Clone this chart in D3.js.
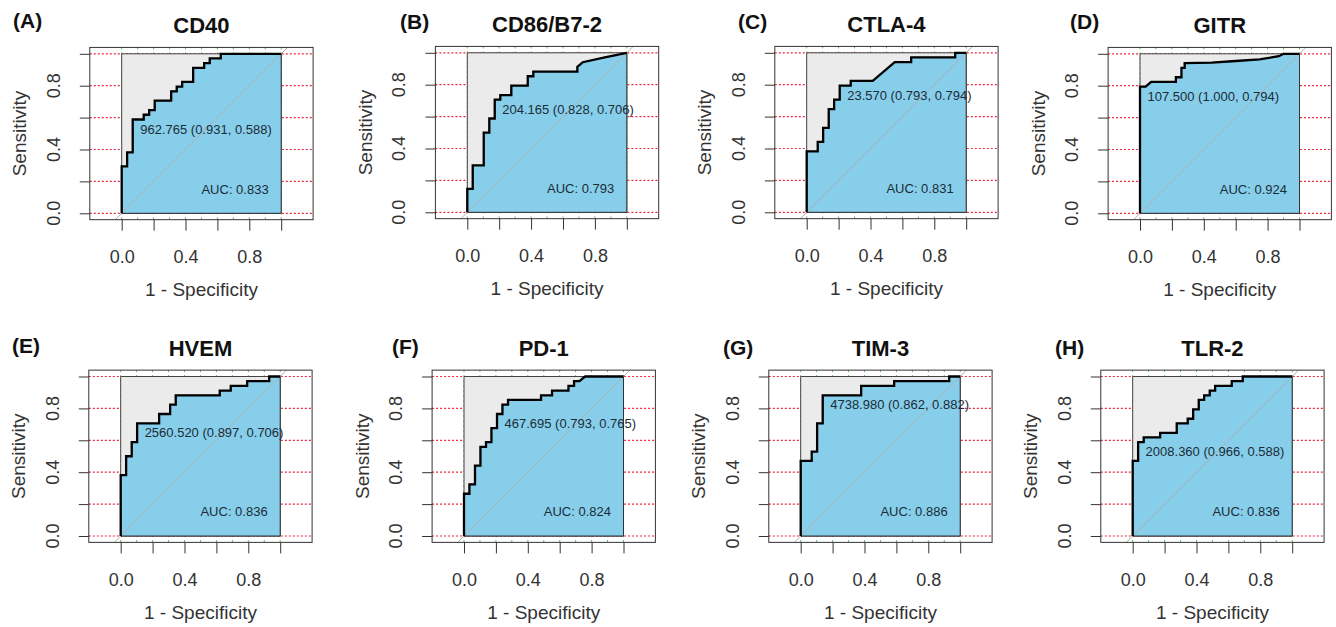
<!DOCTYPE html>
<html>
<head>
<meta charset="utf-8">
<script src="https://cdn.jsdelivr.net/npm/d3@7/dist/d3.min.js"></script>
<style>
  html, body { margin: 0; padding: 0; background: #ffffff; }
  svg { display: block; font-family: "Liberation Sans", Arial, sans-serif; }
</style>
</head>
<body>
<svg id="chart" width="1336" height="627"></svg>
<script>
// ---------------- DATA ----------------
const panelLabels = ["(A)", "(B)", "(C)", "(D)", "(E)", "(F)", "(G)", "(H)"];
const markers = ["CD40", "CD86/B7-2", "CTLA-4", "GITR", "HVEM", "PD-1", "TIM-3", "TLR-2"];
const aucValues = [0.833, 0.793, 0.831, 0.924, 0.836, 0.824, 0.886, 0.836];
const cutoffs = ["962.765", "204.165", "23.570", "107.500", "2560.520", "467.695", "4738.980", "2008.360"];
const cutSpecificity = [0.931, 0.828, 0.793, 1.000, 0.897, 0.793, 0.862, 0.966];
const cutSensitivity = [0.588, 0.706, 0.794, 0.794, 0.706, 0.765, 0.882, 0.588];
const xTicks = [0, 0.2, 0.4, 0.6, 0.8, 1.0];
const yTicks = [0, 0.2, 0.4, 0.6, 0.8, 1.0];
const tickLabels = [0.0, 0.4, 0.8];
const vGrid = [0, 0.1, 0.2, 0.3, 0.4, 0.5, 0.6, 0.7, 0.8, 0.9, 1.0];

// ROC curve points: [1 - specificity, sensitivity]
const rocCD40 = [[0,0],[0,.294],[.034,.294],[.034,.382],[.069,.382],[.069,.588],[.138,.588],[.138,.618],[.172,.618],[.172,.647],[.207,.647],[.207,.706],[.310,.706],[.310,.765],[.345,.765],[.345,.794],[.379,.794],[.379,.824],[.448,.824],[.448,.912],[.517,.912],[.517,.941],[.552,.941],[.552,.971],[.621,.971],[.621,1],[1,1]];
const rocCD86 = [[0,0],[0,.147],[.034,.147],[.034,.294],[.103,.294],[.103,.5],[.138,.5],[.138,.588],[.172,.588],[.172,.706],[.207,.706],[.207,.735],[.276,.735],[.276,.794],[.379,.794],[.379,.853],[.414,.853],[.414,.882],[.690,.882],[.690,.912],[.724,.941],[.862,.971],[1,1]];
const rocCTLA4 = [[0,0],[0,.382],[.069,.382],[.069,.441],[.103,.441],[.103,.529],[.138,.529],[.138,.647],[.172,.647],[.172,.706],[.207,.706],[.207,.794],[.276,.794],[.276,.824],[.414,.824],[.552,.941],[.655,.941],[.655,.971],[.931,.971],[.931,1],[1,1]];
const rocGITR = [[0,0],[0,.794],[.035,.794],[.07,.824],[.225,.824],[.225,.853],[.26,.853],[.26,.912],[.28,.912],[.28,.941],[.45,.945],[.6,.955],[.75,.965],[.87,.985],[.9,1],[1,1]];
const rocHVEM = [[0,0],[0,.382],[.034,.382],[.034,.5],[.069,.5],[.069,.588],[.103,.588],[.103,.706],[.241,.706],[.241,.765],[.310,.765],[.310,.824],[.345,.824],[.345,.882],[.621,.882],[.621,.912],[.690,.912],[.690,.941],[.793,.941],[.793,.971],[.931,.971],[.931,1],[1,1]];
const rocPD1 = [[0,0],[0,.265],[.034,.265],[.034,.324],[.069,.324],[.069,.441],[.103,.441],[.103,.559],[.138,.559],[.138,.588],[.172,.588],[.172,.676],[.207,.676],[.207,.765],[.241,.765],[.241,.824],[.276,.824],[.276,.853],[.483,.853],[.483,.882],[.552,.882],[.552,.912],[.655,.912],[.655,.941],[.690,.941],[.690,.971],[.724,.971],[.759,1],[1,1]];
const rocTIM3 = [[0,0],[0,.471],[.069,.471],[.069,.529],[.103,.529],[.103,.706],[.138,.706],[.138,.882],[.379,.882],[.379,.941],[.586,.941],[.586,.971],[.931,.971],[.931,1],[1,1]];
const rocTLR2 = [[0,0],[0,.471],[.034,.471],[.034,.588],[.069,.588],[.069,.618],[.172,.618],[.172,.647],[.276,.647],[.276,.706],[.345,.706],[.345,.735],[.379,.735],[.379,.794],[.414,.794],[.414,.853],[.448,.853],[.448,.882],[.483,.882],[.483,.912],[.517,.912],[.517,.941],[.621,.941],[.621,.971],[.690,.971],[.690,1],[1,1]];
const rocCurves = [rocCD40, rocCD86, rocCTLA4, rocGITR, rocHVEM, rocPD1, rocTIM3, rocTLR2];

// ---------------- LAYOUT ----------------
const unit = 159.5;
const origins = [[121.7,213.3],[467.3,212.3],[806.7,212.3],[1140,213.3],[120.7,536],[464,536],[800.7,536],[1132.7,536]];
const labelPos = [[13,20],[400,21.5],[738,21.5],[1070,21.5],[12,345],[392,346],[723,347],[1055,347]];

const svg = d3.select("#chart");
const fmt = d3.format(".1f");

rocCurves.forEach((pts, i) => {
  const [ox, oy] = origins[i];
  const x = d3.scaleLinear().domain([0, 1]).range([ox, ox + unit]);
  const y = d3.scaleLinear().domain([0, 1]).range([oy, oy - unit]);
  const g = svg.append("g");
  const xl = x(-0.2), xr = x(1.2), yt = y(1.04), yb = y(-0.04);

  // grid: red horizontal dotted, green vertical dotted
  g.selectAll(".hg").data(yTicks).enter().append("line")
    .attr("x1", xl).attr("x2", xr).attr("y1", d => y(d)).attr("y2", d => y(d))
    .attr("stroke", "#e8283c").attr("stroke-width", 1.2).attr("stroke-dasharray", "2,2");
  g.selectAll(".vg").data(vGrid).enter().append("line")
    .attr("x1", d => x(d)).attr("x2", d => x(d)).attr("y1", yt).attr("y2", yb)
    .attr("stroke", "#5cb85c").attr("stroke-width", 1).attr("stroke-dasharray", "2,3");

  // max AUC polygon (grey square)
  const line = d3.line().x(d => x(d[0])).y(d => y(d[1]));
  g.append("path").attr("d", line([[0,0],[0,1],[1,1],[1,0]]) + "Z")
    .attr("fill", "#ebebeb").attr("stroke", "#444").attr("stroke-width", 1);
  // AUC polygon
  g.append("path").attr("d", line(pts.concat([[1,0]])) + "Z")
    .attr("fill", "#87ceeb").attr("stroke", "#333").attr("stroke-width", 1);
  // identity line
  g.append("line").attr("x1", x(-0.04)).attr("y1", y(-0.04)).attr("x2", x(1.04)).attr("y2", y(1.04))
    .attr("stroke", "#b0b0b0").attr("stroke-width", 1);
  // ROC curve
  g.append("path").attr("d", line(pts)).attr("fill", "none")
    .attr("stroke", "#000").attr("stroke-width", 2.3).attr("stroke-linejoin", "miter");

  // frame
  g.append("rect").attr("x", xl).attr("y", yt).attr("width", xr - xl).attr("height", yb - yt)
    .attr("fill", "none").attr("stroke", "#333").attr("stroke-width", 1);

  // axes
  const xAxis = d3.axisBottom(x).tickValues(xTicks).tickSize(11).tickPadding(20)
    .tickFormat(d => tickLabels.some(t => Math.abs(t - d) < 1e-9) ? fmt(d) : "");
  const xa = g.append("g").attr("transform", `translate(0,${yb})`).call(xAxis);
  xa.select(".domain").remove();
  xa.selectAll(".tick line").attr("stroke", "#333");
  xa.selectAll(".tick text").attr("font-size", 18).attr("fill", "#333")
    .attr("font-family", "Liberation Sans, Arial, sans-serif");

  const yAxis = d3.axisLeft(y).tickValues(yTicks).tickSize(10).tickFormat("");
  const ya = g.append("g").attr("transform", `translate(${xl},0)`).call(yAxis);
  ya.select(".domain").remove();
  ya.selectAll(".tick line").attr("stroke", "#333");
  g.selectAll(".ylab").data(tickLabels).enter().append("text")
    .attr("transform", d => `translate(${ox - 68},${y(d)}) rotate(-90)`)
    .attr("text-anchor", "middle").attr("dominant-baseline", "central")
    .attr("font-size", 18).attr("fill", "#333").text(d => fmt(d));

  // axis titles
  g.append("text").attr("x", x(0.5)).attr("y", oy + 76.5)
    .attr("text-anchor", "middle").attr("dominant-baseline", "central")
    .attr("font-size", 19).attr("fill", "#333").text("1 - Specificity");
  g.append("text").attr("transform", `translate(${ox - 102},${y(0.5)}) rotate(-90)`)
    .attr("text-anchor", "middle").attr("dominant-baseline", "central")
    .attr("font-size", 19).attr("fill", "#333").text("Sensitivity");

  // title
  g.append("text").attr("x", x(0.5)).attr("y", yt - 22)
    .attr("text-anchor", "middle").attr("dominant-baseline", "central")
    .attr("font-size", 22).attr("font-weight", "bold").attr("fill", "#111").text(markers[i]);
  // panel label
  g.append("text").attr("x", labelPos[i][0]).attr("y", labelPos[i][1])
    .attr("dominant-baseline", "central")
    .attr("font-size", 21).attr("font-weight", "bold").attr("fill", "#111").text(panelLabels[i]);

  // threshold annotation
  const fx = 1 - cutSpecificity[i], sy = cutSensitivity[i];
  g.append("text").attr("x", x(fx) + 7.5).attr("y", y(sy) + 9.5)
    .attr("dominant-baseline", "central").attr("font-size", 13).attr("fill", "#1c2c36")
    .text(`${cutoffs[i]} (${cutSpecificity[i].toFixed(3)}, ${cutSensitivity[i].toFixed(3)})`);
  // AUC
  g.append("text").attr("x", x(0.5)).attr("y", y(0.152))
    .attr("dominant-baseline", "central").attr("font-size", 13).attr("fill", "#1c2c36")
    .text(`AUC: ${aucValues[i].toFixed(3)}`);
});
</script>
</body>
</html>
